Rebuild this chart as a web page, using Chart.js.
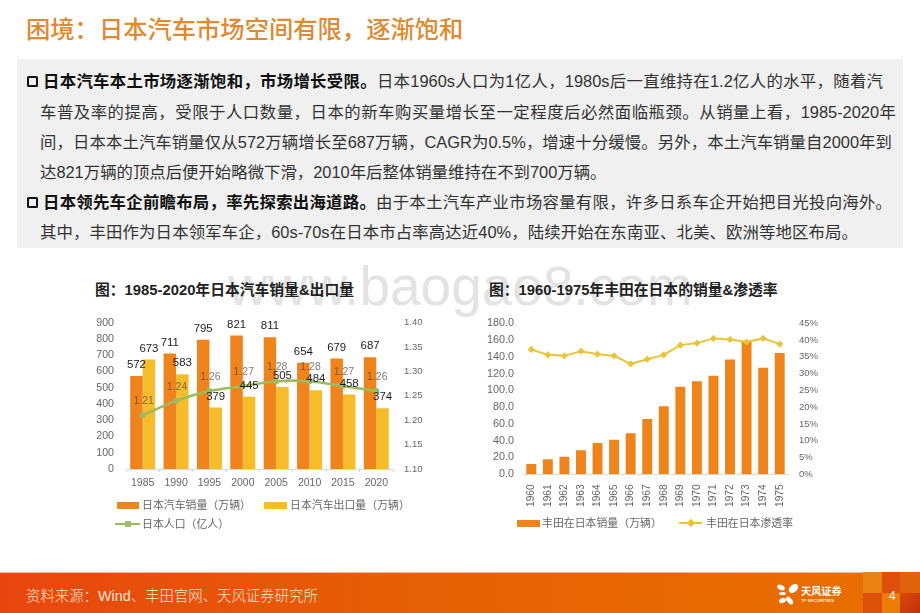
<!DOCTYPE html>
<html lang="zh">
<head>
<meta charset="utf-8">
<title>困境：日本汽车市场空间有限，逐渐饱和</title>
<script src="https://cdn.jsdelivr.net/npm/chart.js@4"></script>
<style>
  html, body { margin: 0; padding: 0; background: #fff; }
  body { width: 920px; height: 613px; position: relative; overflow: hidden;
         font-family: "Liberation Sans", "Noto Sans CJK SC", sans-serif; color: #333; }
  .abs { position: absolute; white-space: nowrap; }
  #pageTitle { left: 26px; top: 12px; font-size: 24.3px; line-height: 36px; font-weight: 500; color: #DE8A30; }
  #box { left: 17px; top: 59px; width: 886px; height: 189px; background: #f0f0f0; }
  .line { font-size: 16.4px; line-height: 24px; height: 24px; text-align: justify; text-align-last: justify; white-space: normal; }
  .line.last { text-align-last: left; }
  .line b { color: #111; font-weight: 700; }
  .check { width: 7px; height: 7px; border: 2.6px solid #111; border-radius: 1.5px; }
  .chartTitle { font-size: 14.8px; line-height: 20px; font-weight: 700; color: #222; }
  #watermark { left: 228px; top: 248px; font-size: 55px; line-height: 76px; color: #e3e3e3; }
  canvas { position: absolute; display: block; }
  .legendText { font-size: 10.9px; line-height: 14px; color: #666; }
  #footer { left: 0; top: 572px; width: 920px; height: 41px; background: linear-gradient(90deg, #E8460F 0%, #E66005 45%, #E97000 100%); border-top: 1px solid #f6b9a0; box-sizing: border-box; }
  .tile { height: 21px; }
  #source { left: 26px; top: 586px; font-size: 14.4px; line-height: 20px; color: #fbe3d3; font-weight: 300; }
  #pageNo { left: 889px; top: 588px; font-size: 12px; line-height: 16px; color: #f3f3f3; }
  .petal { background: #fff; border-radius: 50%; }
  #logoName { left: 801px; top: 585px; font-size: 10.2px; line-height: 14px; font-weight: 700; color: #fff; }
  #logoEn { left: 801px; top: 598px; font-size: 4.4px; line-height: 6px; font-weight: 700; color: #fde6c8; }
</style>
</head>
<body>
<div class="abs" id="watermark">www.baogao8.com</div>
<div class="abs" id="pageTitle">困境：日本汽车市场空间有限，逐渐饱和</div>
<div class="abs" id="box"></div>

<div class="abs check" style="left:27px;top:76px"></div>
<div class="abs line" style="left:43px;top:69px;width:840px"><b>日本汽车本土市场逐渐饱和，市场增长受限。</b>日本1960s人口为1亿人，1980s后一直维持在1.2亿人的水平，随着汽</div>
<div class="abs line" style="left:40px;top:100px;width:856px">车普及率的提高，受限于人口数量，日本的新车购买量增长至一定程度后必然面临瓶颈。从销量上看，1985-2020年</div>
<div class="abs line" style="left:40px;top:130px;width:852px">间，日本本土汽车销量仅从572万辆增长至687万辆，CAGR为0.5%，增速十分缓慢。另外，本土汽车销量自2000年到</div>
<div class="abs line last" style="left:40px;top:160px;width:600px">达821万辆的顶点后便开始略微下滑，2010年后整体销量维持在不到700万辆。</div>
<div class="abs check" style="left:27px;top:197px"></div>
<div class="abs line" style="left:43px;top:190px;width:849px"><b>日本领先车企前瞻布局，率先探索出海道路。</b>由于本土汽车产业市场容量有限，许多日系车企开始把目光投向海外。</div>
<div class="abs line" style="left:40px;top:220px;width:818px">其中，丰田作为日本领军车企，60s-70s在日本市占率高达近40%，陆续开始在东南亚、北美、欧洲等地区布局。</div>

<div class="abs chartTitle" style="left:95px;top:280px">图：1985-2020年日本汽车销量&amp;出口量</div>
<div class="abs chartTitle" style="left:489px;top:280px">图：1960-1975年丰田在日本的销量&amp;渗透率</div>

<canvas id="salesChart" width="350" height="190" style="left:85px;top:310px"></canvas>
<canvas id="toyotaChart" width="355" height="205" style="left:475px;top:310px"></canvas>

<div class="abs" id="footer"></div>
<div class="abs tile" style="left:863px;top:572px;width:19px;background:#E98210"></div>
<div class="abs tile" style="left:882px;top:572px;width:18px;background:#DF4E0A"></div>
<div class="abs tile" style="left:900px;top:572px;width:20px;background:#E0620A"></div>
<div class="abs tile" style="left:863px;top:593px;width:19px;height:20px;background:#DE4F08"></div>
<div class="abs tile" style="left:882px;top:593px;width:18px;height:20px;background:#EC7E06"></div>
<div class="abs tile" style="left:900px;top:593px;width:20px;height:20px;background:linear-gradient(135deg,#D9480B,#C4300A)"></div>
<div class="abs" id="source">资料来源：Wind、丰田官网、天风证券研究所</div>
<div class="abs" id="pageNo">4</div>

<div class="abs petal" style="left:788px;top:585px;width:11px;height:7px;transform:rotate(-40deg)"></div>
<div class="abs petal" style="left:777px;top:585px;width:8px;height:5px;transform:rotate(25deg)"></div>
<div class="abs petal" style="left:779px;top:592px;width:7px;height:3px"></div>
<div class="abs petal" style="left:779px;top:598px;width:7px;height:5px;transform:rotate(-20deg)"></div>
<div class="abs petal" style="left:785px;top:598px;width:9px;height:5px;transform:rotate(50deg)"></div>
<div class="abs" id="logoName">天风证券</div>
<div class="abs" id="logoEn">TF SECURITIES</div>

<script>
// left chart
var years5 = ['1985', '1990', '1995', '2000', '2005', '2010', '2015', '2020'];
var salesJapan = [572, 711, 795, 821, 811, 654, 679, 687];
var exportJapan = [673, 583, 379, 445, 505, 484, 458, 374];
var population = [1.21, 1.24, 1.26, 1.27, 1.28, 1.28, 1.27, 1.26];
var salesLabel = '日本汽车销量（万辆）';
var exportLabel = '日本汽车出口量（万辆）';
var populationLabel = '日本人口（亿人）';

// right chart
var years1 = ['1960', '1961', '1962', '1963', '1964', '1965', '1966', '1967',
              '1968', '1969', '1970', '1971', '1972', '1973', '1974', '1975'];
var toyotaSales = [12.3, 17.9, 21, 28.6, 37.4, 41.3, 48.9, 66, 81, 104.5, 111, 117.6, 136.7, 158, 127, 144.6];
var toyotaShare = [37.2, 35.6, 35.3, 36.7, 35.8, 35.3, 32.9, 34.3, 35.6, 38.5, 39.1, 40.5, 40.2, 39.4, 40.5, 38.8];
var toyotaSalesLabel = '丰田在日本销量（万辆）';
var toyotaShareLabel = '丰田在日本渗透率';

var orange = '#F0841C';
var yellow = '#F6BC2C';
var green = '#A0BA60';
var gold = '#E9C437';
var fontFamily = '"Liberation Sans", "Noto Sans CJK SC", sans-serif';

Chart.defaults.font.family = fontFamily;
Chart.defaults.animation = false;

// numbers above the marks, the library has no labels of its own
var valueLabels = {
  id: 'valueLabels',
  afterDatasetsDraw: function(chart) {
    var ctx = chart.ctx;
    ctx.save();
    ctx.textAlign = 'center';
    ctx.textBaseline = 'middle';
    chart.data.datasets.forEach(function(ds, i) {
      var meta = chart.getDatasetMeta(i);
      meta.data.forEach(function(el, j) {
        if (ds.type === 'line') {
          ctx.font = '10.5px ' + fontFamily;
          ctx.fillStyle = 'rgba(85,70,65,0.72)';
          ctx.fillText(ds.data[j].toFixed(2), el.x + 1, el.y - 14);
        } else {
          ctx.font = '11.4px ' + fontFamily;
          ctx.fillStyle = '#1c1c1c';
          ctx.fillText(ds.data[j], el.x, el.y - 11);
        }
      });
    });
    ctx.restore();
  }
};

// tick padding also pushes the plot down, so clear it and keep the axis width fixed
function fitWidth(w) {
  return function(axis) {
    axis.width = w;
    axis.paddingTop = 0;
    axis.paddingBottom = 0;
  };
}
function fitHeight(h) {
  return function(axis) { axis.height = h; };
}

new Chart(document.getElementById('salesChart'), {
  type: 'bar',
  data: {
    labels: years5,
    datasets: [
      { type: 'line', label: populationLabel, data: population, yAxisID: 'y1', order: 0,
        borderColor: green, backgroundColor: green, borderWidth: 2.6, tension: 0.3,
        pointRadius: 3, pointBackgroundColor: green, pointBorderWidth: 0 },
      { label: salesLabel, data: salesJapan, yAxisID: 'y', order: 1, backgroundColor: orange,
        categoryPercentage: 0.75, barPercentage: 1 },
      { label: exportLabel, data: exportJapan, yAxisID: 'y', order: 1, backgroundColor: yellow,
        categoryPercentage: 0.75, barPercentage: 1 }
    ]
  },
  options: {
    responsive: false,
    layout: { padding: { top: 12.7, left: 1, right: 0, bottom: 0 } },
    plugins: { legend: { display: false }, tooltip: { enabled: false } },
    scales: {
      x: {
        grid: { drawOnChartArea: false, tickLength: 3, color: '#d9d9d9' },
        border: { color: '#d9d9d9' },
        ticks: { color: '#666', font: { size: 10.5 }, padding: 5, maxRotation: 0 },
        afterFit: fitHeight(31)
      },
      y: {
        min: 0, max: 900,
        grid: { display: false, drawTicks: false }, border: { display: false },
        ticks: { stepSize: 100, autoSkip: false, color: '#666', font: { size: 10.6 }, padding: 12 },
        afterFit: fitWidth(40)
      },
      y1: {
        position: 'right', min: 1.1, max: 1.4,
        grid: { display: false, drawTicks: false }, border: { display: false },
        ticks: { stepSize: 0.05, autoSkip: false, color: '#666', font: { size: 9.5 }, padding: 11,
                 callback: function(v) { return v.toFixed(2); } },
        afterFit: fitWidth(42)
      }
    }
  },
  plugins: [valueLabels]
});

new Chart(document.getElementById('toyotaChart'), {
  type: 'bar',
  data: {
    labels: years1,
    datasets: [
      { type: 'line', label: toyotaShareLabel, data: toyotaShare, yAxisID: 'y1', order: 0,
        borderColor: gold, backgroundColor: gold, borderWidth: 2, tension: 0,
        pointStyle: 'rectRot', pointRadius: 3.6, pointBackgroundColor: gold, pointBorderWidth: 0 },
      { label: toyotaSalesLabel, data: toyotaSales, yAxisID: 'y', order: 1, backgroundColor: orange,
        categoryPercentage: 0.6, barPercentage: 1 }
    ]
  },
  options: {
    responsive: false,
    layout: { padding: { top: 13.3, left: 0, right: 0, bottom: 0 } },
    plugins: { legend: { display: false }, tooltip: { enabled: false } },
    scales: {
      x: {
        grid: { display: false },
        border: { color: '#d9d9d9' },
        ticks: { color: '#666', font: { size: 10.2 }, padding: 2, minRotation: 90, maxRotation: 90, autoSkip: false },
        afterFit: fitHeight(40.7)
      },
      y: {
        min: 0, max: 180,
        grid: { display: false, drawTicks: false }, border: { display: false },
        ticks: { stepSize: 20, autoSkip: false, color: '#666', font: { size: 10.8 }, padding: 9,
                 callback: function(v) { return v.toFixed(1); } },
        afterFit: fitWidth(48)
      },
      y1: {
        position: 'right', min: 0, max: 45,
        grid: { display: false, drawTicks: false }, border: { display: false },
        ticks: { stepSize: 5, autoSkip: false, color: '#666', font: { size: 9.5 }, padding: 11,
                 callback: function(v) { return v + '%'; } },
        afterFit: fitWidth(42)
      }
    }
  }
});

// legends sit under each plot
function addLegend(x, y, w, textX, kind, color, text) {
  var mark = document.createElement('div');
  mark.className = 'abs';
  if (kind === 'bar') {
    mark.style.cssText = 'left:' + x + 'px;top:' + (y - 3.5) + 'px;width:' + w + 'px;height:7px;background:' + color;
    document.body.appendChild(mark);
  } else {
    mark.style.cssText = 'left:' + x + 'px;top:' + (y - 1) + 'px;width:' + w + 'px;height:2px;background:' + color;
    document.body.appendChild(mark);
    var dot = document.createElement('div');
    dot.className = 'abs';
    var rot = kind === 'diamond' ? 'transform:rotate(45deg);' : 'border-radius:1px;';
    dot.style.cssText = 'left:' + (x + w / 2 - 3) + 'px;top:' + (y - 3) + 'px;width:6px;height:6px;' + rot + 'background:' + color;
    document.body.appendChild(dot);
  }
  var label = document.createElement('div');
  label.className = 'abs legendText';
  label.style.left = textX + 'px';
  label.style.top = (y - 7) + 'px';
  label.textContent = text;
  document.body.appendChild(label);
}
addLegend(117, 505, 22, 142, 'bar', orange, salesLabel);
addLegend(264, 505, 23, 290, 'bar', yellow, exportLabel);
addLegend(115, 524, 25, 142, 'line', green, populationLabel);
addLegend(517, 523, 23, 542, 'bar', orange, toyotaSalesLabel);
addLegend(679, 523, 23, 706, 'diamond', gold, toyotaShareLabel);
</script>
</body>
</html>
